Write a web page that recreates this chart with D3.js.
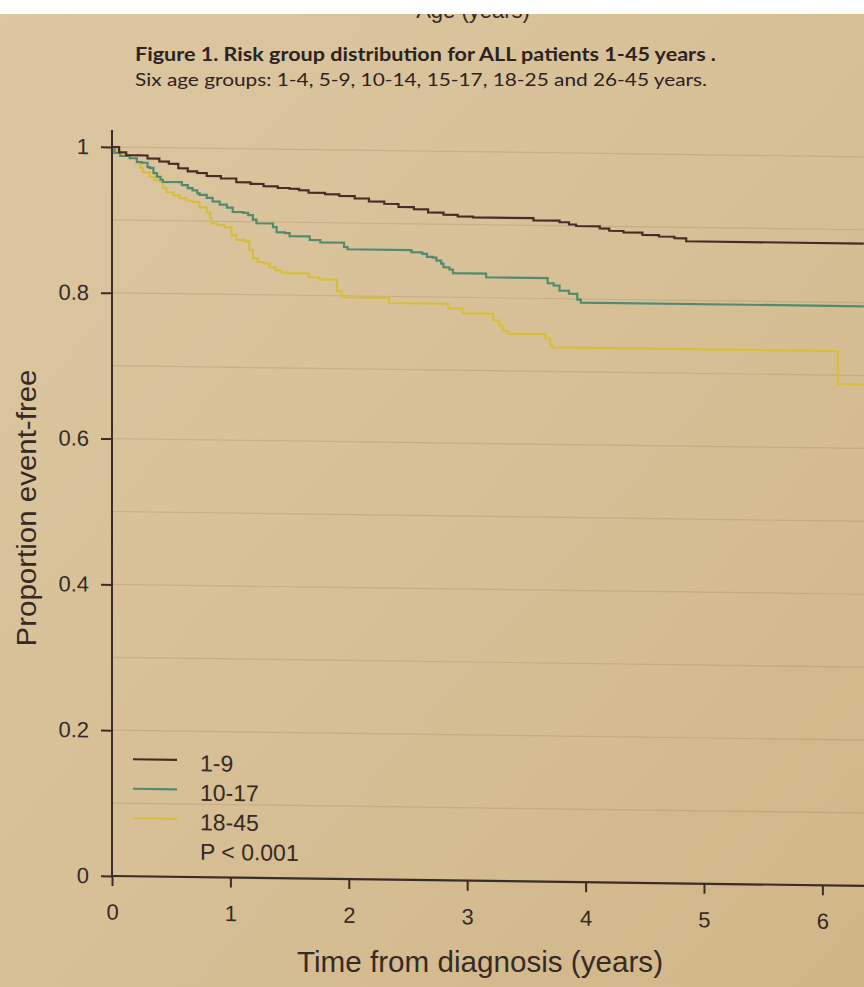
<!DOCTYPE html>
<html>
<head>
<meta charset="utf-8">
<script src="https://cdn.jsdelivr.net/npm/d3@7"></script>
<style>
html,body{margin:0;padding:0;background:#d6bf95;}
svg{display:block;}
</style>
</head>
<body>
<svg id="chart" width="864" height="987"></svg>
<script>
// ---------- data ----------
const headingCut = "Age (years)";
const titleText = "Figure 1. Risk group distribution for ALL patients 1-45 years .";
const subtitleText = "Six age groups: 1-4, 5-9, 10-14, 15-17, 18-25 and 26-45 years.";
const xTitle = "Time from diagnosis (years)";
const yTitle = "Proportion event-free";
const xTicks = [0, 1, 2, 3, 4, 5, 6];
const yTicks = [0, 0.2, 0.4, 0.6, 0.8, 1];
const yTickLabels = ["0", "0.2", "0.4", "0.6", "0.8", "1"];
const gridTicks = [0.1, 0.2, 0.3, 0.4, 0.5, 0.6, 0.7, 0.8, 0.9, 1.0];
const seriesNames = ["1-9", "10-17", "18-45"];
const seriesColors = ["#4a2a25", "#528b6c", "#d6be3c"];
const pValueText = "P < 0.001";

const time_1_9 = [0,0.06,0.12,0.30,0.40,0.48,0.56,0.64,0.72,0.80,0.92,1.05,1.17,1.28,1.40,1.50,1.58,1.66,1.80,1.92,2.05,2.17,2.30,2.42,2.55,2.67,2.80,2.92,3.05,3.56,3.78,3.86,3.92,4.12,4.20,4.32,4.48,4.62,4.75,4.85,6.35];
const surv_1_9 = [1.000,0.993,0.989,0.985,0.981,0.978,0.972,0.968,0.966,0.962,0.959,0.954,0.952,0.949,0.947,0.946,0.944,0.941,0.939,0.937,0.934,0.930,0.927,0.923,0.920,0.916,0.913,0.911,0.910,0.907,0.905,0.902,0.900,0.897,0.894,0.892,0.889,0.887,0.885,0.881,0.881];

const time_10_17 = [0,0.02,0.07,0.15,0.21,0.25,0.30,0.32,0.35,0.38,0.41,0.43,0.59,0.64,0.68,0.72,0.74,0.80,0.85,0.91,0.97,1.02,1.11,1.15,1.19,1.22,1.36,1.39,1.46,1.50,1.67,1.76,1.96,1.99,2.53,2.62,2.66,2.71,2.74,2.78,2.80,2.85,2.88,3.16,3.68,3.73,3.78,3.86,3.93,3.96,6.35];
const surv_10_17 = [1.000,0.992,0.988,0.985,0.980,0.979,0.973,0.972,0.965,0.960,0.956,0.953,0.949,0.945,0.942,0.938,0.936,0.932,0.927,0.923,0.919,0.913,0.912,0.909,0.903,0.898,0.893,0.886,0.885,0.881,0.876,0.873,0.867,0.864,0.861,0.859,0.855,0.854,0.850,0.846,0.841,0.838,0.833,0.828,0.821,0.818,0.811,0.807,0.799,0.795,0.795];

const time_18_45 = [0,0.02,0.07,0.15,0.21,0.24,0.26,0.32,0.36,0.41,0.43,0.46,0.52,0.57,0.63,0.68,0.74,0.80,0.83,0.84,0.89,0.95,1.01,1.05,1.12,1.16,1.19,1.23,1.28,1.33,1.38,1.43,1.48,1.66,1.75,1.90,1.94,2.34,2.84,2.96,3.22,3.27,3.30,3.34,3.66,3.70,3.72,6.13,6.35];
const surv_18_45 = [1.000,0.996,0.989,0.985,0.978,0.972,0.966,0.960,0.955,0.953,0.945,0.939,0.935,0.931,0.928,0.926,0.919,0.912,0.904,0.897,0.895,0.892,0.881,0.875,0.873,0.861,0.850,0.845,0.843,0.838,0.834,0.831,0.830,0.825,0.822,0.806,0.798,0.791,0.785,0.778,0.769,0.762,0.755,0.751,0.745,0.736,0.733,0.688,0.688];

// ---------- drawing ----------
const W = 864, H = 987;
const svg = d3.select("#chart");
const inkColor = "#352a24";
const axisColor = "#3b2c25";
const sansFont = "'Liberation Sans', Arial, Helvetica, sans-serif";
const titleFont = "Lato, 'Open Sans', 'Noto Sans', sans-serif";

const defs = svg.append("defs");
const grad = defs.append("linearGradient").attr("id", "bg")
  .attr("x1", "0").attr("y1", "0").attr("x2", "1").attr("y2", "1");
grad.append("stop").attr("offset", "0%").attr("stop-color", "#dcc7a2");
grad.append("stop").attr("offset", "55%").attr("stop-color", "#d6bf95");
grad.append("stop").attr("offset", "100%").attr("stop-color", "#d1b688");
svg.append("rect").attr("width", W).attr("height", H).attr("fill", "url(#bg)");

// cut-off heading at the top, covered by the white strip
svg.append("text")
  .attr("x", 473).attr("y", 18).attr("text-anchor", "middle")
  .style("font", "22px " + sansFont).attr("fill", inkColor)
  .text(headingCut);
svg.append("rect").attr("width", W).attr("height", 14).attr("fill", "#ffffff");

// figure title
svg.append("text")
  .attr("x", 135).attr("y", 61)
  .attr("textLength", 581).attr("lengthAdjust", "spacingAndGlyphs")
  .style("font", "bold 18px " + titleFont).attr("fill", "#2c231e")
  .text(titleText);
svg.append("text")
  .attr("x", 135).attr("y", 86)
  .attr("textLength", 572).attr("lengthAdjust", "spacingAndGlyphs")
  .style("font", "18px " + titleFont).attr("fill", "#2c231e")
  .text(subtitleText);

// scales
const x = d3.scaleLinear().domain([0, 6.35]).range([112, 863.8]);
const y = d3.scaleLinear().domain([0, 1]).range([876, 147]);

// plot group with the slight tilt of the photographed poster
const plot = svg.append("g")
  .attr("transform", "translate(112,0) skewY(0.75) translate(-112,0)");

// faint grid
plot.append("g").selectAll("line").data(gridTicks).join("line")
  .attr("x1", x(0) + 1).attr("x2", W)
  .attr("y1", d => y(d)).attr("y2", d => y(d))
  .attr("stroke", "#9c7f5c").attr("stroke-opacity", 0.28).attr("stroke-width", 1.2);

// axes
const yAxis = d3.axisLeft(y).tickValues(yTicks)
  .tickFormat((d, i) => yTickLabels[i]).tickSize(11).tickPadding(12).tickSizeOuter(0);
const gy = plot.append("g").attr("transform", `translate(${x(0)},0)`).call(yAxis);
gy.select(".domain").remove();

const xAxis = d3.axisBottom(x).tickValues(xTicks)
  .tickFormat(d3.format("d")).tickSize(10).tickPadding(18).tickSizeOuter(0);
const gx = plot.append("g").attr("transform", `translate(0,${y(0)})`).call(xAxis);
gx.select(".domain").remove();

[gx, gy].forEach(g => {
  g.selectAll(".tick line").attr("stroke", axisColor).attr("stroke-width", 2);
  g.selectAll(".tick text").attr("fill", inkColor)
    .style("font-family", sansFont).style("font-size", "22px");
});

plot.append("line")
  .attr("x1", x(0)).attr("x2", x(0)).attr("y1", 130).attr("y2", y(0))
  .attr("stroke", axisColor).attr("stroke-width", 2);
plot.append("line")
  .attr("x1", x(0)).attr("x2", W).attr("y1", y(0)).attr("y2", y(0))
  .attr("stroke", axisColor).attr("stroke-width", 2.2);

// Kaplan-Meier step curves
const series = [
  {name: seriesNames[0], t: time_1_9, s: surv_1_9, color: seriesColors[0]},
  {name: seriesNames[1], t: time_10_17, s: surv_10_17, color: seriesColors[1]},
  {name: seriesNames[2], t: time_18_45, s: surv_18_45, color: seriesColors[2]}
];
const line = d3.line()
  .x(d => x(d[0])).y(d => y(d[1]))
  .curve(d3.curveStepAfter);

plot.append("g").selectAll("path")
  .data(series.slice().reverse()).join("path")
  .attr("d", d => line(d3.zip(d.t, d.s)))
  .attr("fill", "none")
  .attr("stroke", d => d.color)
  .attr("stroke-width", 2.2)
  .attr("stroke-linejoin", "miter");

// legend
const legend = plot.append("g");
const legY0 = 759, legStep = 29.5;
series.forEach((s, i) => {
  legend.append("line")
    .attr("x1", 133).attr("x2", 177)
    .attr("y1", legY0 + i * legStep).attr("y2", legY0 + i * legStep)
    .attr("stroke", s.color).attr("stroke-width", 2.2);
  legend.append("text")
    .attr("x", 200).attr("y", legY0 + i * legStep + 11)
    .style("font", "23px " + sansFont).attr("fill", inkColor)
    .text(s.name);
});
legend.append("text")
  .attr("x", 200).attr("y", legY0 + 3 * legStep + 11)
  .style("font", "23px " + sansFont).attr("fill", inkColor)
  .text(pValueText);

// axis titles
svg.append("text")
  .attr("x", 480).attr("y", 972).attr("text-anchor", "middle")
  .attr("textLength", 366).attr("lengthAdjust", "spacingAndGlyphs")
  .style("font", "29px " + sansFont).attr("fill", inkColor)
  .text(xTitle);
svg.append("text")
  .attr("transform", "translate(36,508) rotate(-90)")
  .attr("text-anchor", "middle")
  .attr("textLength", 277).attr("lengthAdjust", "spacingAndGlyphs")
  .style("font", "27px " + sansFont).attr("fill", inkColor)
  .text(yTitle);
</script>
</body>
</html>
